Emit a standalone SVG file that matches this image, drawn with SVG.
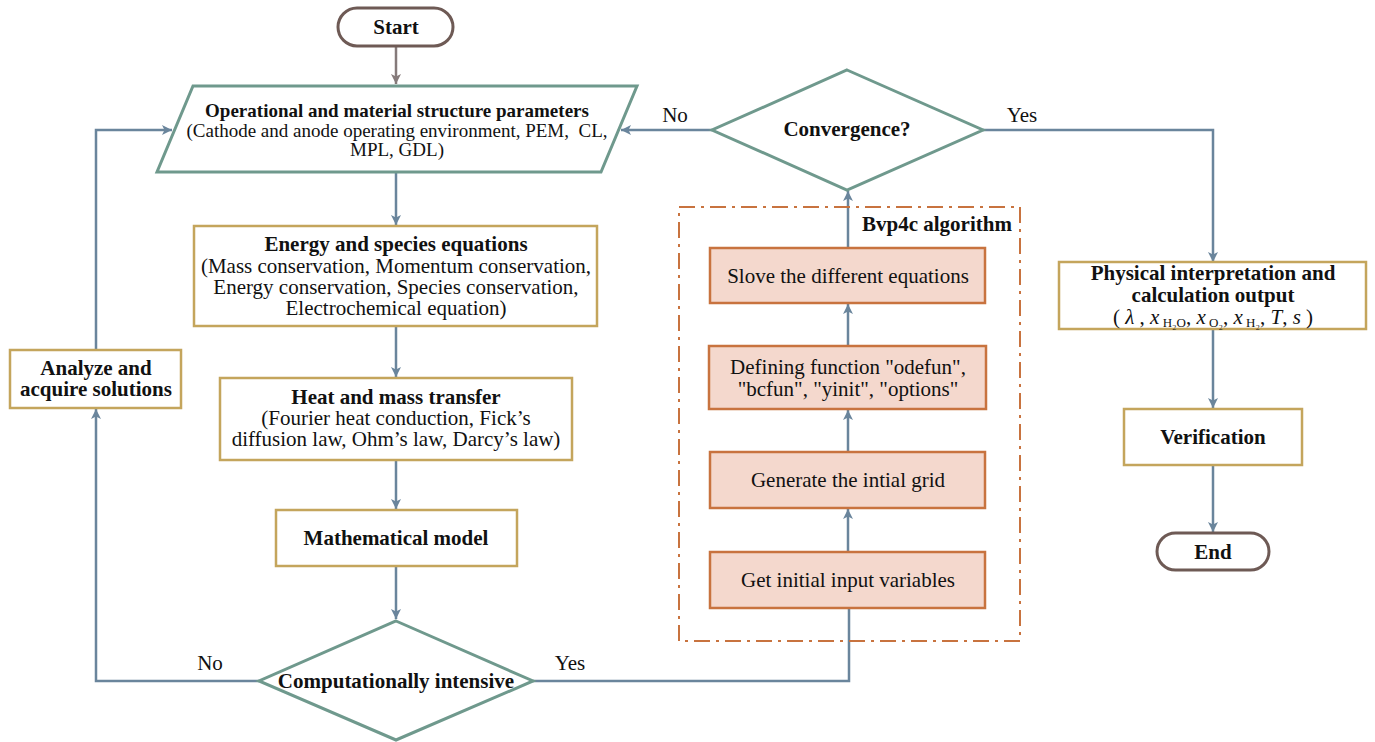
<svg xmlns="http://www.w3.org/2000/svg" width="1375" height="742" viewBox="0 0 1375 742">
<defs>
<marker id="ah" viewBox="0 0 10 10" refX="10" refY="5" markerWidth="10" markerHeight="10" markerUnits="userSpaceOnUse" orient="auto">
<path d="M0,0 L10,5 L0,10 L2.5,5 Z" fill="#6a859c"/>
</marker>
<marker id="ahg" viewBox="0 0 10 10" refX="10" refY="5" markerWidth="10" markerHeight="10" markerUnits="userSpaceOnUse" orient="auto">
<path d="M0,0 L10,5 L0,10 L2.5,5 Z" fill="#857a7a"/>
</marker>
<style>
text{font-family:"Liberation Serif","Times New Roman",serif;font-size:21px;fill:#111;text-anchor:middle}
.b{font-weight:bold}
.p{font-size:19px}
.term{fill:#fff;stroke:#6e5a55;stroke-width:3}
.teal{fill:#fff;stroke:#6f998d;stroke-width:3}
.gold{fill:#fff;stroke:#c4a55c;stroke-width:2.5}
.bvp{fill:#f4d8cd;stroke:#c8733f;stroke-width:2.5}
.conn{fill:none;stroke:#6a859c;stroke-width:2.5}
.dash{fill:none;stroke:#c8733f;stroke-width:2;stroke-dasharray:16,6,3,6}
</style>
</defs>
<g id="connectors">
<line x1="396" y1="47" x2="396" y2="84" stroke="#857a7a" stroke-width="2.5" marker-end="url(#ahg)"/>
<line class="conn" x1="396" y1="172" x2="396" y2="225" marker-end="url(#ah)"/>
<line class="conn" x1="396" y1="326" x2="396" y2="377" marker-end="url(#ah)"/>
<line class="conn" x1="396" y1="460" x2="396" y2="509" marker-end="url(#ah)"/>
<line class="conn" x1="396" y1="566" x2="396" y2="619" marker-end="url(#ah)"/>
<polyline class="conn" points="259,681 96,681 96,409" marker-end="url(#ah)"/>
<polyline class="conn" points="96,350 96,130 172,130" marker-end="url(#ah)"/>
<polyline class="conn" points="533,681 849,681 849,553" marker-end="url(#ah)"/>
<line class="conn" x1="848" y1="552" x2="848" y2="509" marker-end="url(#ah)"/>
<line class="conn" x1="848" y1="452" x2="848" y2="410" marker-end="url(#ah)"/>
<line class="conn" x1="848" y1="346" x2="848" y2="304" marker-end="url(#ah)"/>
<line class="conn" x1="848" y1="248" x2="848" y2="191" marker-end="url(#ah)"/>
<line class="conn" x1="712" y1="130" x2="621" y2="130" marker-end="url(#ah)"/>
<polyline class="conn" points="983,130 1213,130 1213,262" marker-end="url(#ah)"/>
<line class="conn" x1="1213" y1="329" x2="1213" y2="408" marker-end="url(#ah)"/>
<line class="conn" x1="1213" y1="465" x2="1213" y2="532" marker-end="url(#ah)"/>
<text x="210" y="670">No</text>
<text x="570" y="670">Yes</text>
<text x="675" y="122">No</text>
<text x="1022" y="122">Yes</text>
</g>
<g id="start">
<rect class="term" x="338" y="8" width="115" height="38" rx="19"/>
<text class="b" x="396" y="34">Start</text>
</g>
<g id="params">
<polygon class="teal" points="193,86 637,86 601,172 157,172"/>
<text class="b p" x="397" y="117">Operational and material structure parameters</text>
<text class="p" x="397" y="137" xml:space="preserve">(Cathode and anode operating environment, PEM,  CL,</text>
<text class="p" x="397" y="156">MPL, GDL)</text>
</g>
<g id="energy">
<rect class="gold" x="194" y="226" width="403" height="100"/>
<text class="b" x="396" y="251">Energy and species equations</text>
<text x="396" y="273">(Mass conservation, Momentum conservation,</text>
<text x="396" y="294">Energy conservation, Species conservation,</text>
<text x="396" y="315">Electrochemical equation)</text>
</g>
<g id="heat">
<rect class="gold" x="220" y="378" width="352" height="82"/>
<text class="b" x="396" y="404">Heat and mass transfer</text>
<text x="396" y="425">(Fourier heat conduction, Fick’s</text>
<text x="396" y="446">diffusion law, Ohm’s law, Darcy’s law)</text>
</g>
<g id="math">
<rect class="gold" x="276" y="510" width="241" height="56"/>
<text class="b" x="396" y="545">Mathematical model</text>
</g>
<g id="compint">
<polygon class="teal" points="396,621 533,681 396,740 259,681"/>
<text class="b" x="396" y="688">Computationally intensive</text>
</g>
<g id="analyze">
<rect class="gold" x="10" y="350" width="171" height="58"/>
<text class="b" x="96" y="375">Analyze and</text>
<text class="b" x="96" y="396">acquire solutions</text>
</g>
<g id="bvp4c">
<rect class="dash" x="679" y="207" width="341" height="434"/>
<text class="b" x="937" y="231">Bvp4c algorithm</text>
</g>
<g id="solve">
<rect class="bvp" x="710" y="248" width="275" height="55"/>
<text x="848" y="283">Slove the different equations</text>
</g>
<g id="define">
<rect class="bvp" x="709" y="346" width="277" height="63"/>
<text x="848" y="374">Defining function "odefun",</text>
<text x="848" y="396">"bcfun", "yinit", "options"</text>
</g>
<g id="grid">
<rect class="bvp" x="710" y="452" width="275" height="56"/>
<text x="848" y="487">Generate the intial grid</text>
</g>
<g id="input">
<rect class="bvp" x="710" y="552" width="275" height="56"/>
<text x="848" y="587">Get initial input variables</text>
</g>
<g id="converge">
<polygon class="teal" points="847,70 983,130 847,190 712,130"/>
<text class="b" x="847" y="136">Convergence?</text>
</g>
<g id="physical">
<rect class="gold" x="1059" y="262" width="307" height="67"/>
<text class="b" x="1213" y="280">Physical interpretation and</text>
<text class="b" x="1213" y="302">calculation output</text>
<text x="1213" y="324">( <tspan font-style="italic">λ</tspan> , <tspan font-style="italic">x</tspan><tspan font-size="13" dy="3"> H₂O</tspan><tspan dy="-3">, </tspan><tspan font-style="italic">x</tspan><tspan font-size="13" dy="3"> O₂</tspan><tspan dy="-3">, </tspan><tspan font-style="italic">x</tspan><tspan font-size="13" dy="3"> H₂</tspan><tspan dy="-3">, </tspan><tspan font-style="italic">T</tspan>, <tspan font-style="italic">s</tspan> )</text>
</g>
<g id="verification">
<rect class="gold" x="1124" y="409" width="178" height="56"/>
<text class="b" x="1213" y="444">Verification</text>
</g>
<g id="end">
<rect class="term" x="1157" y="533" width="112" height="37" rx="18.5"/>
<text class="b" x="1213" y="559">End</text>
</g>
</svg>
